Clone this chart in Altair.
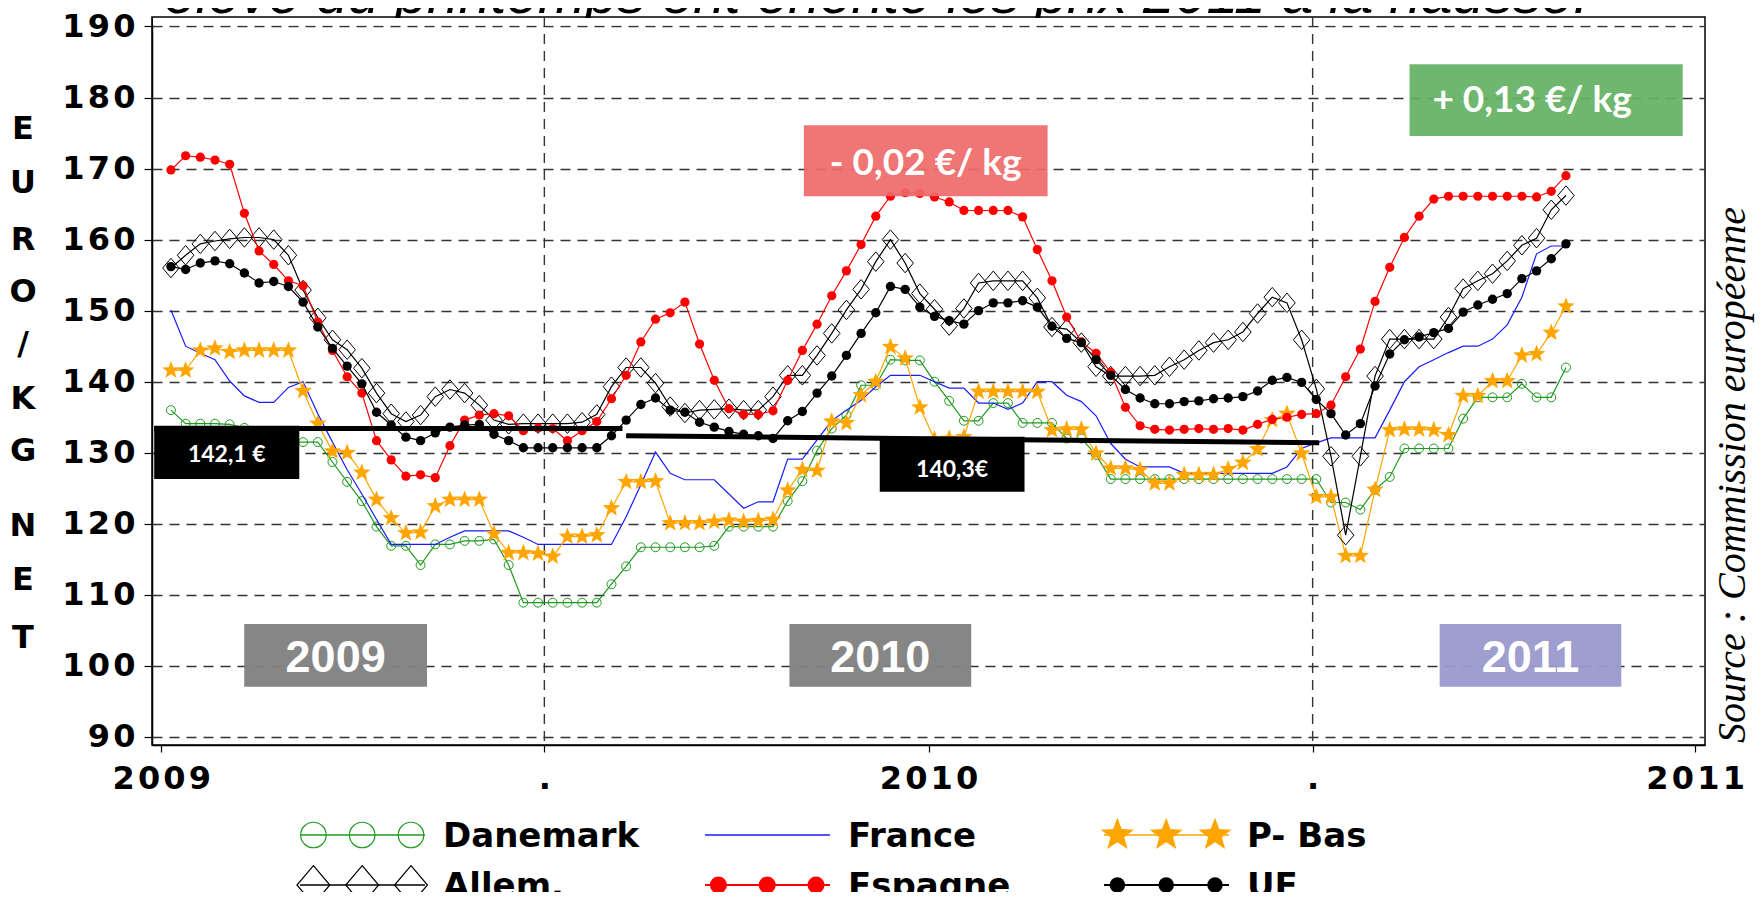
import altair as alt
import pandas as pd

# ---------------- data (weekly prices, EUR / kg net x 100) ----------------
weeks = list(range(96))

danemark = [
    136.0, 134.1, 134.1, 134.1, 134.0, 133.5, 132.8, 132.0, 131.5, 131.5, 131.5, 128.7,
    125.9, 123.2, 119.6, 116.9, 116.9, 114.2, 117.1, 117.1, 117.6, 117.6, 117.8, 114.2,
    108.9, 108.9, 108.9, 108.9, 108.9, 108.9, 111.5, 114.0, 116.7, 116.7, 116.7, 116.7,
    116.7, 116.9, 119.6, 119.6, 119.6, 119.6, 123.2, 126.0, 130.3, 133.4, 135.3, 139.5,
    139.5, 143.1, 143.0, 143.0, 140.0, 137.3, 134.5, 134.5, 137.0, 137.0, 134.2, 134.2,
    134.2, 132.0, 132.0, 129.7, 126.3, 126.3, 126.3, 126.3, 126.3, 126.3, 126.3, 126.3,
    126.3, 126.3, 126.3, 126.3, 126.3, 126.3, 126.3, 123.0, 123.0, 122.0, 124.8, 126.6,
    130.6, 130.6, 130.6, 130.6, 134.8, 137.8, 137.8, 137.8, 139.7, 137.8, 137.8, 142.0,
]
france = [
    150.1, 145.0, 144.0, 143.1, 140.1, 138.0, 137.1, 137.1, 139.2, 140.0, 135.5, 131.5,
    127.6, 124.2, 120.6, 117.1, 117.1, 117.1, 117.1, 118.1, 119.0, 119.0, 119.0, 119.0,
    118.1, 117.1, 117.1, 117.1, 117.1, 117.1, 117.1, 121.0, 125.5, 130.1, 127.1, 126.2,
    126.2, 126.2, 124.2, 122.2, 123.1, 123.1, 129.1, 129.1, 131.8, 134.5, 136.0, 137.4,
    139.3, 140.9, 140.9, 140.9, 140.0, 139.1, 139.1, 137.0, 137.0, 136.1, 137.0, 140.0,
    140.0, 138.1, 137.2, 135.2, 131.3, 129.1, 128.0, 128.0, 128.0, 127.1, 127.1, 127.1,
    127.1, 127.1, 127.1, 127.1, 128.0, 130.6, 131.4, 132.1, 132.1, 132.1, 132.1, 136.0,
    140.0, 142.1, 143.1, 144.1, 145.0, 145.0, 146.0, 148.0, 151.9, 158.0, 159.1, 159.1,
]
pays_bas = [
    141.6, 141.6, 144.4, 144.7, 144.2, 144.4, 144.4, 144.4, 144.4, 138.7, 134.1, 130.2,
    130.0, 127.2, 123.4, 120.8, 118.7, 118.8, 122.5, 123.4, 123.4, 123.4, 118.6, 115.9,
    115.9, 115.8, 115.4, 118.2, 118.2, 118.4, 122.2, 125.9, 125.9, 126.0, 120.1, 120.1,
    120.1, 120.3, 120.5, 120.3, 120.4, 120.6, 124.7, 127.6, 127.5, 134.4, 134.2, 138.1,
    140.0, 144.9, 143.3, 136.4, 131.9, 132.0, 132.2, 138.6, 138.6, 138.6, 138.6, 138.6,
    133.2, 133.3, 133.3, 129.9, 127.8, 127.8, 127.6, 125.7, 125.7, 126.9, 126.9, 126.9,
    127.7, 128.6, 130.5, 134.6, 135.5, 129.9, 123.8, 123.8, 115.5, 115.5, 124.8, 133.2,
    133.3, 133.3, 133.2, 132.5, 138.0, 138.0, 140.1, 140.1, 143.7, 143.9, 146.9, 150.6,
]
allemagne = [
    156.0, 157.8, 159.4, 159.8, 160.1, 160.3, 160.3, 160.0, 157.8, 152.9, 149.0, 145.9,
    144.5, 141.9, 138.4, 135.5, 134.4, 135.3, 137.9, 138.9, 138.4, 136.7, 134.6, 134.0,
    134.1, 134.1, 134.1, 134.1, 134.3, 135.4, 139.3, 142.0, 142.0, 139.8, 136.5, 135.6,
    136.0, 136.1, 136.2, 136.0, 136.0, 137.9, 140.9, 140.9, 143.7, 146.8, 150.1, 153.0,
    156.9, 160.0, 156.7, 152.4, 150.2, 147.9, 150.3, 153.9, 154.2, 154.2, 154.2, 151.8,
    147.7, 147.4, 145.5, 142.1, 140.8, 140.8, 140.8, 140.9, 142.1, 143.1, 144.4, 145.5,
    145.9, 147.0, 149.6, 151.9, 151.1, 145.9, 139.0, 129.5, 118.4, 129.5, 140.8, 146.0,
    146.0, 146.0, 146.0, 149.1, 153.1, 154.2, 155.2, 157.0, 159.2, 160.2, 164.2, 166.2,
]
espagne = [
    169.8, 171.8, 171.6, 171.2, 170.6, 163.7, 158.4, 156.5, 154.2, 153.5, 148.4, 144.4,
    140.7, 138.4, 131.7, 129.0, 126.7, 126.9, 126.5, 131.0, 134.6, 135.3, 135.5, 135.2,
    133.1, 133.5, 133.4, 131.7, 133.1, 134.4, 137.6, 140.9, 145.6, 148.8, 149.7, 151.2,
    145.3, 140.2, 136.2, 135.4, 135.4, 135.9, 140.2, 144.4, 148.1, 152.1, 155.6, 159.3,
    163.3, 166.1, 166.6, 166.5, 166.0, 165.3, 164.1, 164.1, 164.1, 164.1, 163.2, 158.6,
    154.2, 149.1, 145.6, 144.0, 141.3, 136.4, 133.8, 133.3, 133.2, 133.3, 133.4, 133.3,
    133.4, 133.2, 134.0, 134.7, 135.0, 135.4, 135.5, 136.7, 140.7, 144.6, 151.3, 156.1,
    160.3, 163.3, 165.7, 166.1, 166.1, 166.1, 166.1, 166.1, 166.1, 166.0, 166.8, 169.0,
]
ue = [
    156.2, 155.8, 156.7, 157.0, 156.6, 155.3, 153.9, 154.1, 153.4, 151.2, 147.7, 144.7,
    142.2, 139.7, 135.7, 133.9, 132.2, 131.7, 132.8, 133.6, 133.9, 134.0, 132.6, 131.7,
    130.7, 130.7, 130.7, 130.7, 130.7, 130.7, 132.4, 134.6, 136.8, 137.7, 136.0, 135.7,
    134.3, 133.6, 133.0, 132.6, 132.4, 132.0, 134.5, 135.8, 138.4, 140.8, 143.7, 146.8,
    149.7, 153.4, 153.0, 150.5, 149.2, 148.6, 148.1, 150.0, 151.1, 151.1, 151.4, 150.5,
    147.8, 146.1, 145.5, 143.1, 140.9, 138.9, 137.7, 136.9, 136.9, 137.2, 137.3, 137.6,
    137.7, 137.9, 138.7, 140.2, 140.6, 139.9, 137.5, 135.5, 132.5, 134.1, 139.4, 143.9,
    145.9, 146.3, 146.9, 147.5, 149.8, 150.8, 151.6, 152.4, 154.5, 155.6, 157.3, 159.4,
]

series_names = ["Danemark", "France", "P- Bas", "Allem.", "Espagne", "UE"]

x_tick_values = [-0.66, 25.43, 51.59, 77.75, 103.8]
x_tick_labels = ["2009", ".", "2010", ".", "2011"]
y_tick_values = [90, 100, 110, 120, 130, 140, 150, 160, 170, 180, 190]
year_divider_weeks = [25.43, 77.75]

avg_line_start = [-1.14, 31.0]
avg_line_end = [30.75, 78.2]
avg_line_from = [133.4, 132.4]
avg_line_to = [133.4, 131.4]

value_labels = ["142,1 €", "140,3€"]
value_box_x0 = [-1.14, 48.27]
value_box_x1 = [8.74, 58.13]
value_box_y0 = [126.29, 124.53]
value_box_y1 = [133.79, 132.26]
value_text_y = [128.7, 126.6]

change_labels = ["- 0,02 €/ kg", "+ 0,13 €/ kg"]
change_box_x0 = [43.1, 84.35]
change_box_x1 = [59.7, 102.95]
change_box_y0 = [166.1, 174.59]
change_box_y1 = [176.1, 184.67]
change_text_x = [51.4, 92.7]
change_text_y = [169.1, 177.96]

year_labels = ["2009", "2010", "2011"]
year_box_x0 = [4.99, 42.12, 86.4]
year_box_x1 = [17.44, 54.5, 98.77]
year_box_y0 = 97.07
year_box_y1 = 105.89
year_text_y = 99.2

title_text = "élevé du printemps ont orienté les prix 2011 à la hausse!"
source_text = "Source : Commission européenne"
y_title_letters = ["E", "U", "R", "O", "/", "K", "G", "N", "E", "T"]

for s in (danemark, france, pays_bas, allemagne, espagne, ue):
    assert len(s) == len(weeks)

# ---------------- layout / style ----------------
W, H = 1553, 728
PAD = {"left": 144, "top": 9, "right": 51, "bottom": 147}
BOLD_FONT = "DejaVu Sans"
HAIR = "\u200a"  # tracking between digits, as in the original axis labels

STAR = ("M0,-1L0.2469,-0.3398L0.9511,-0.309L0.3994,0.1298L0.5878,0.809L0,0.42"
        "L-0.5878,0.809L-0.3994,0.1298L-0.9511,-0.309L-0.2469,-0.3398Z")
TALL_DIAMOND = "M0,-1L0.85,0L0,1L-0.85,0Z"

GREEN = "#1f9a1f"
BLUE = "#1a1aff"
ORANGE = "#ffa500"
RED = "#ff0000"
GRID = "#333333"

xscale = alt.Scale(domain=[-1.29, 104.47], nice=False, zero=False)
yscale = alt.Scale(domain=[88.87, 191.33], nice=False, zero=False)


def spaced(s):
    return HAIR.join(s)


mids = [(x_tick_values[i] + x_tick_values[i + 1]) / 2 for i in range(len(x_tick_values) - 1)]
x_label_expr = ""
for m, lab in zip(mids, x_tick_labels[:-1]):
    x_label_expr += f"datum.value < {m} ? '{spaced(lab)}' : "
x_label_expr += f"'{spaced(x_tick_labels[-1])}'"

y_label_expr = ""
for v in y_tick_values:
    y_label_expr += f"datum.value == {v} ? '{spaced(str(v))}' : "
y_label_expr += "datum.label"

xaxis = alt.Axis(values=x_tick_values, labelExpr=x_label_expr, grid=False, ticks=True,
                 tickSize=7, tickColor="black", tickWidth=1.2, domainColor="black",
                 domainWidth=1.5, labelFont=BOLD_FONT, labelFontSize=32,
                 labelFontWeight="bold", labelColor="black", labelPadding=11,
                 title=None, labelFlush=False, labelOverlap=False, labelBound=False)
yaxis = alt.Axis(values=y_tick_values, labelExpr=y_label_expr, grid=True, gridColor=GRID,
                 gridDash=[10, 7], gridWidth=1.4, tickSize=8, tickColor="black",
                 tickWidth=1.2, domainColor="black", domainWidth=1.5,
                 labelFont=BOLD_FONT, labelFontSize=32, labelFontWeight="bold",
                 labelColor="black", labelPadding=9, title=None,
                 labelOverlap=False, labelFlush=False)


def X(field):
    return alt.X(f"{field}:Q", scale=xscale, axis=xaxis)


def Y(field):
    return alt.Y(f"{field}:Q", scale=yscale, axis=yaxis)


dummy = pd.DataFrame({"d": [0]})
layers = []

# cut-off slide title (above the frame)
layers.append(alt.Chart(dummy).mark_text(
    align="left", baseline="alphabetic", font="Liberation Sans", fontStyle="italic",
    fontSize=57, color="black").encode(
    x=alt.value(12), y=alt.value(-4.3), text=alt.value(title_text)))
layers.append(alt.Chart(dummy).mark_rect(color="white").encode(
    x=alt.value(1), x2=alt.value(W - 1), y=alt.value(1), y2=alt.value(8.5)))

# year dividers
layers.append(alt.Chart(pd.DataFrame({"t": year_divider_weeks})).mark_rule(
    color=GRID, strokeDash=[10, 7], strokeWidth=1.4).encode(
    x=X("t"), y=alt.value(0), y2=alt.value(H)))

series_style = [
    (danemark, GREEN, dict(shape="circle", filled=False, size=80, strokeWidth=1)),
    (france, BLUE, None),
    (pays_bas, ORANGE, dict(shape=STAR, filled=True, size=340)),
    (allemagne, "black", dict(shape=TALL_DIAMOND, filled=False, size=380, strokeWidth=1)),
    (espagne, RED, dict(shape="circle", filled=True, size=85)),
    (ue, "black", dict(shape="circle", filled=True, size=88)),
]
for values, col, pt in series_style:
    df = pd.DataFrame({"t": weeks, "v": values})
    base = alt.Chart(df).encode(x=X("t"), y=Y("v"))
    layers.append(base.mark_line(color=col, strokeWidth=1.2))
    if pt:
        layers.append(base.mark_point(color=col, opacity=1, **pt))

# average price lines
avg_df = pd.DataFrame({"x0": avg_line_start, "x1": avg_line_end,
                       "y0": avg_line_from, "y1": avg_line_to})
layers.append(alt.Chart(avg_df).mark_rule(color="black", strokeWidth=5).encode(
    x=X("x0"), x2="x1:Q", y=Y("y0"), y2="y1:Q"))

# value boxes
for i, lab in enumerate(value_labels):
    d = pd.DataFrame({"x0": [value_box_x0[i]], "x1": [value_box_x1[i]],
                      "y0": [value_box_y0[i]], "y1": [value_box_y1[i]],
                      "tx": [(value_box_x0[i] + value_box_x1[i]) / 2],
                      "ty": [value_text_y[i]], "label": [lab]})
    c = alt.Chart(d)
    layers.append(c.mark_rect(color="black").encode(x=X("x0"), x2="x1:Q", y=Y("y0"), y2="y1:Q"))
    layers.append(c.mark_text(font="Lato", fontWeight="bold", fontSize=23, color="white",
                              baseline="alphabetic").encode(x=X("tx"), y=Y("ty"), text="label:N"))

# change boxes
change_colors = ["#ef6a6a", "#63b163"]
for i, lab in enumerate(change_labels):
    d = pd.DataFrame({"x0": [change_box_x0[i]], "x1": [change_box_x1[i]],
                      "y0": [change_box_y0[i]], "y1": [change_box_y1[i]],
                      "tx": [change_text_x[i]], "ty": [change_text_y[i]], "label": [lab]})
    c = alt.Chart(d)
    layers.append(c.mark_rect(color=change_colors[i], opacity=0.92).encode(
        x=X("x0"), x2="x1:Q", y=Y("y0"), y2="y1:Q"))
    layers.append(c.mark_text(font="Lato", fontWeight="bold", fontSize=37, color="white",
                              baseline="alphabetic").encode(x=X("tx"), y=Y("ty"), text="label:N"))

# year boxes
year_colors = ["#7f7f7f", "#7f7f7f", "#9999cc"]
for i, lab in enumerate(year_labels):
    d = pd.DataFrame({"x0": [year_box_x0[i]], "x1": [year_box_x1[i]],
                      "y0": [year_box_y0], "y1": [year_box_y1],
                      "tx": [(year_box_x0[i] + year_box_x1[i]) / 2],
                      "ty": [year_text_y], "label": [lab]})
    c = alt.Chart(d)
    layers.append(c.mark_rect(color=year_colors[i], opacity=0.95).encode(
        x=X("x0"), x2="x1:Q", y=Y("y0"), y2="y1:Q"))
    layers.append(c.mark_text(font="Liberation Sans", fontWeight="bold", fontSize=45,
                              color="white", baseline="alphabetic").encode(
        x=X("tx"), y=Y("ty"), text="label:N"))

# vertical y-axis title, one letter per line
letter_y = [121.7, 175.7, 232.7, 284.7, 336.7, 391.7, 443.7, 518.7, 572.7, 630.7]
for ch, py in zip(y_title_letters, letter_y):
    layers.append(alt.Chart(dummy).mark_text(
        font=BOLD_FONT, fontWeight="bold", fontSize=32, color="black",
        align="center", baseline="alphabetic").encode(
        x=alt.value(-129), y=alt.value(py), text=alt.value(ch)))

# source
layers.append(alt.Chart(dummy).mark_text(
    font="Liberation Serif", fontStyle="italic", fontSize=40, color="black",
    angle=270, align="center", baseline="alphabetic").encode(
    x=alt.value(1593), y=alt.value(458), text=alt.value(source_text)))

# legend (drawn by hand: 2 rows x 3 columns)
leg_cols = [148, 553, 952]
leg_rows = [818, 868]
marker_off = [13.4, 62.2, 111]
legend_style = [
    (GREEN, dict(shape="circle", filled=False, size=650, strokeWidth=1.2), 1.5),
    (BLUE, None, 1.5),
    (ORANGE, dict(shape=STAR, filled=True, size=1200), 1.5),
    ("black", dict(shape=TALL_DIAMOND, filled=False, size=1500, strokeWidth=1.2), 1.5),
    (RED, dict(shape="circle", filled=True, size=290), 2),
    ("black", dict(shape="circle", filled=True, size=240), 2),
]
for k, name in enumerate(series_names):
    col_x = leg_cols[k % 3]
    row_y = leg_rows[k // 3]
    color, pt, lw = legend_style[k]
    layers.append(alt.Chart(dummy).mark_rule(color=color, strokeWidth=lw).encode(
        x=alt.value(col_x), x2=alt.value(col_x + 125), y=alt.value(row_y)))
    if pt:
        for off in marker_off:
            layers.append(alt.Chart(dummy).mark_point(color=color, opacity=1, **pt).encode(
                x=alt.value(col_x + off), y=alt.value(row_y)))
    layers.append(alt.Chart(dummy).mark_text(
        font=BOLD_FONT, fontWeight="bold", fontSize=34, color="black",
        align="left", baseline="alphabetic").encode(
        x=alt.value(col_x + 143), y=alt.value(row_y + 12.3), text=alt.value(name)))

chart = alt.layer(*layers).properties(
    width=W, height=H, padding=PAD,
    autosize=alt.AutoSizeParams(type="none"),
).configure_view(stroke="black", strokeWidth=1.5)

chart.save("out.html", embed_options={"renderer": "svg", "actions": False})
